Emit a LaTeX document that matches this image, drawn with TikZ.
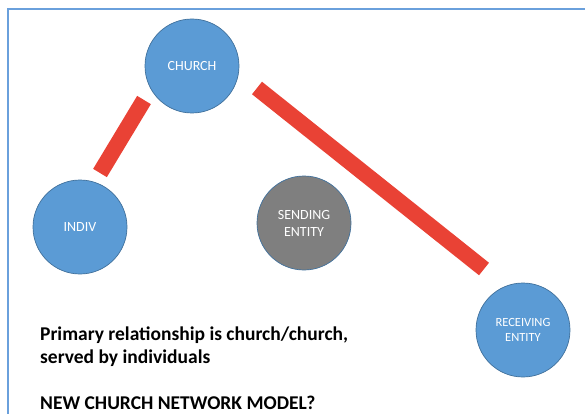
\documentclass[tikz,border=0pt]{standalone}
\usepackage{fontspec}
\setmainfont{Carlito}
\definecolor{nodeblue}{RGB}{91,155,213}
\definecolor{nodeedge}{RGB}{65,113,156}
\definecolor{nodegray}{RGB}{127,127,127}
\definecolor{barred}{RGB}{233,66,53}
\definecolor{frameblue}{RGB}{106,160,220}
\tikzset{
  entity/.style={circle, draw=nodeedge, line width=0.7pt, fill=nodeblue,
    minimum size=94pt, inner sep=0pt, text=white, align=center,
    font=\fontsize{14}{17}\selectfont},
  graynode/.style={entity, fill=nodegray},
  link/.style={barred, line width=16pt, line cap=butt},
  caption/.style={anchor=base west, inner sep=0pt,
    font=\bfseries\fontsize{19.5}{23}\selectfont}
}
\begin{document}
\begin{tikzpicture}[x=1pt,y=-1pt]
  \useasboundingbox (0,0) rectangle (585,414);
  % slide frame
  \draw[frameblue, line width=2pt] (8,414) -- (8,9) -- (585,9);

  % entities
  \node[entity] (church) at (192,66) {CHURCH};
  \node[entity] (indiv) at (80,227) {INDIV};
  \node[graynode] (sending) at (304,223) {SENDING\\ENTITY};
  \node[entity, font=\fontsize{12.5}{15}\selectfont] (receiving) at (523,330) {RECEIVING\\ENTITY};

  % relationship bars
  \coordinate (l1) at (144,100);
  \coordinate (l2) at (100,173);
  \coordinate (r1) at (257,88);
  \coordinate (r2) at (484,269);
  \draw[link] (l1) -- (l2);
  \draw[link] (r1) -- (r2);

  % captions
  \node[caption] (cap1) at (40,340) {Primary relationship is church/church,};
  \node[caption] (cap2) at (40,363) {served by individuals};
  \node[caption] (cap3) at (40,409) {NEW CHURCH NETWORK MODEL?};
\end{tikzpicture}
\end{document}
